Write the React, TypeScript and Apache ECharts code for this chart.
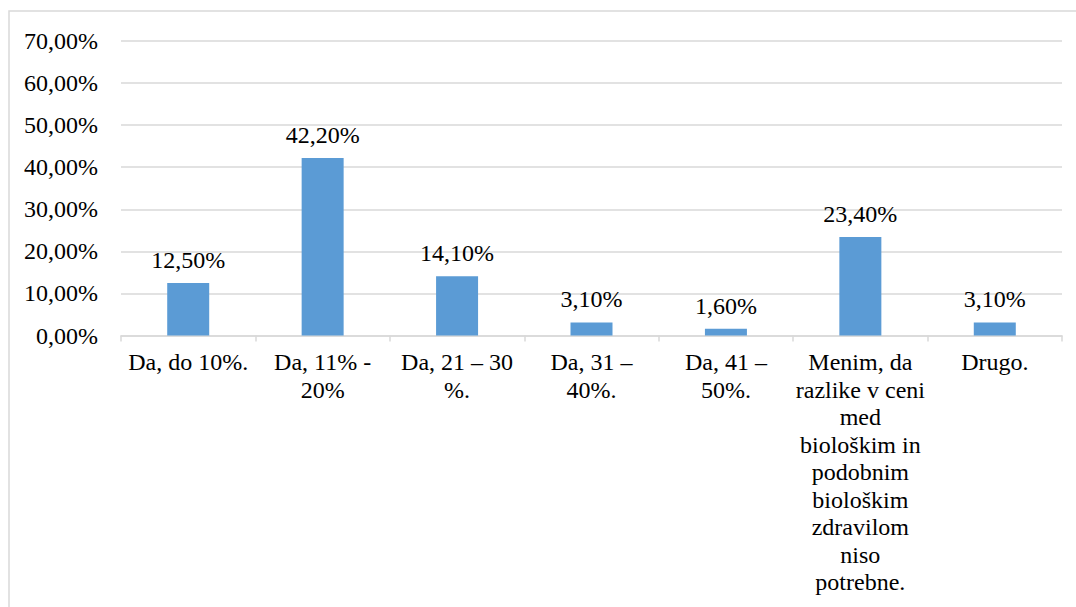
import React, { useEffect, useRef } from "react";
import * as echarts from "echarts";

// Answer categories (line breaks as they wrap under each column)
const categories: string[] = [
  "Da, do 10%.",
  "Da, 11% -\n20%",
  "Da, 21 – 30\n%.",
  "Da, 31 –\n40%.",
  "Da, 41 –\n50%.",
  "Menim, da\nrazlike v ceni\nmed\nbiološkim in\npodobnim\nbiološkim\nzdravilom\nniso\npotrebne.",
  "Drugo.",
];

// Share of respondents, in percent
const shares: number[] = [12.5, 42.2, 14.1, 3.1, 1.6, 23.4, 3.1];

const FONT = "Liberation Serif";
const FONT_SIZE = 24;
const fmtPct = (v: number) => v.toFixed(2).replace(".", ",") + "%";

// Serif text style shared by every label
const serif = {
  fontFamily: FONT,
  fontSize: FONT_SIZE,
  fontStyle: "normal",
  fontWeight: "normal",
  color: "#000",
};
const wrapRich = (s: string) =>
  s
    .split("\n")
    .map((line) => `{t|${line}}`)
    .join("\n");

export default function App() {
  const ref = useRef<HTMLDivElement>(null);

  useEffect(() => {
    document.body.style.margin = "0";
    if (!ref.current) return;
    const chart = echarts.init(ref.current, undefined, { renderer: "svg" });
    chart.setOption({
      animation: false,
      backgroundColor: "#ffffff",
      textStyle: { ...serif },
      grid: { left: 121, right: 14, top: 41, bottom: 271.5, containLabel: false },
      graphic: [
        {
          type: "rect",
          shape: { x: 9, y: 11, width: 1200, height: 800 },
          style: { fill: "none", stroke: "#d9d9d9", lineWidth: 1.5 },
          silent: true,
          z: -1,
        },
      ],
      xAxis: {
        type: "category",
        data: categories,
        axisLine: { show: true, lineStyle: { color: "#d9d9d9", width: 1.5 } },
        axisTick: { show: true, length: 6, lineStyle: { color: "#d9d9d9", width: 1.5 } },
        axisLabel: {
          interval: 0,
          margin: 13,
          ...serif,
          lineHeight: 27.5,
          align: "center",
          formatter: (v: string) => wrapRich(v),
          rich: { t: { ...serif, lineHeight: 27.5, align: "center" } },
        },
      },
      yAxis: {
        type: "value",
        min: 0,
        max: 70,
        interval: 10,
        axisLine: { show: false },
        axisTick: { show: false },
        splitLine: { lineStyle: { color: "#d9d9d9", width: 1.5 } },
        axisLabel: {
          margin: 23,
          ...serif,
          formatter: (v: number) => `{t|${fmtPct(v)}}`,
          rich: { t: { ...serif } },
        },
      },
      series: [
        {
          type: "bar",
          data: shares,
          barWidth: 42,
          itemStyle: { color: "#5b9bd5" },
          label: {
            show: true,
            position: "top",
            distance: 11,
            ...serif,
            formatter: (p: any) => `{t|${fmtPct(p.value)}}`,
            rich: { t: { ...serif } },
          },
        },
      ],
    });
    return () => chart.dispose();
  }, []);

  return <div ref={ref} style={{ width: 1076, height: 607 }} />;
}
